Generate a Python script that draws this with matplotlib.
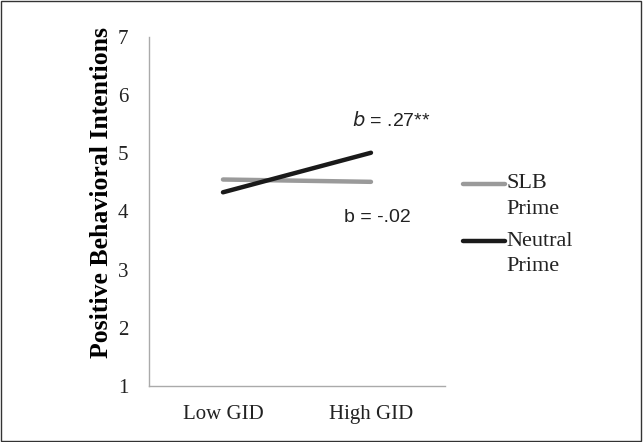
import matplotlib.pyplot as plt
from matplotlib.patches import Rectangle

categories = ['Low GID', 'High GID']
slb_prime = [4.55, 4.51]
neutral_prime = [4.33, 5.01]
yticks = [1, 2, 3, 4, 5, 6, 7]
series_names = [['SLB', 'Prime'], ['Neutral', 'Prime']]
series_colors = ['#9a9a9a', '#1a1a1a']

serif = 'Liberation Serif'
sans = 'Liberation Sans'

fig = plt.figure(figsize=(6.43, 4.42), dpi=100)
ax = fig.add_axes([0.2317, 0.1267, 0.4603, 0.7896])

x = range(len(categories))
ax.plot(x, slb_prime, color=series_colors[0], lw=3.2, solid_capstyle='round')
ax.plot(x, neutral_prime, color=series_colors[1], lw=3.2, solid_capstyle='round')

ax.set_xlim(-0.5, 1.5)
ax.set_ylim(1, 7)
ax.set_xticks(list(x))
ax.set_xticklabels(categories, fontfamily=serif, fontsize=15)
ax.set_yticks(yticks)
ax.set_yticklabels([str(v) for v in yticks], fontfamily=serif, fontsize=15)
ax.tick_params(length=0, colors='#222222')
ax.tick_params(axis='x', pad=14)
ax.tick_params(axis='y', pad=15)
for s in ['top', 'right']:
    ax.spines[s].set_visible(False)
for s in ['left', 'bottom']:
    ax.spines[s].set_color('#aaaaaa')
    ax.spines[s].set_linewidth(1.0)

ax.set_ylabel('Positive Behavioral Intentions', fontfamily=serif, fontsize=18.5,
              fontweight='bold')
ax.yaxis.set_label_coords(-0.12, 0.553)

ax.text(0.87, 5.57, '$\\it{b}$ = .27**', fontfamily=sans, fontsize=14, color='#222222',
        va='center')
ax.text(0.82, 3.89, 'b = -.02', fontfamily=sans, fontsize=14, color='#222222',
        va='center')

# legend drawn by hand so the key line sits on the first text line
leg_y = [0.579, 0.415]
for names, c, ly in zip(series_names, series_colors, leg_y):
    ax.plot([1.061, 1.203], [ly, ly], color=c, lw=3.2, solid_capstyle='round',
            transform=ax.transAxes, clip_on=False)
    ax.text(1.209, ly, names[0], fontfamily=serif, fontsize=16, color='#222222',
            va='center', transform=ax.transAxes)
    ax.text(1.209, ly - 0.072, names[1], fontfamily=serif, fontsize=16, color='#222222',
            va='center', transform=ax.transAxes)

fig.patches.append(Rectangle((0.002, 0.003), 0.995, 0.994, transform=fig.transFigure,
                             fill=False, edgecolor='#333333', lw=1.0))

plt.savefig('out.png', dpi=100)
